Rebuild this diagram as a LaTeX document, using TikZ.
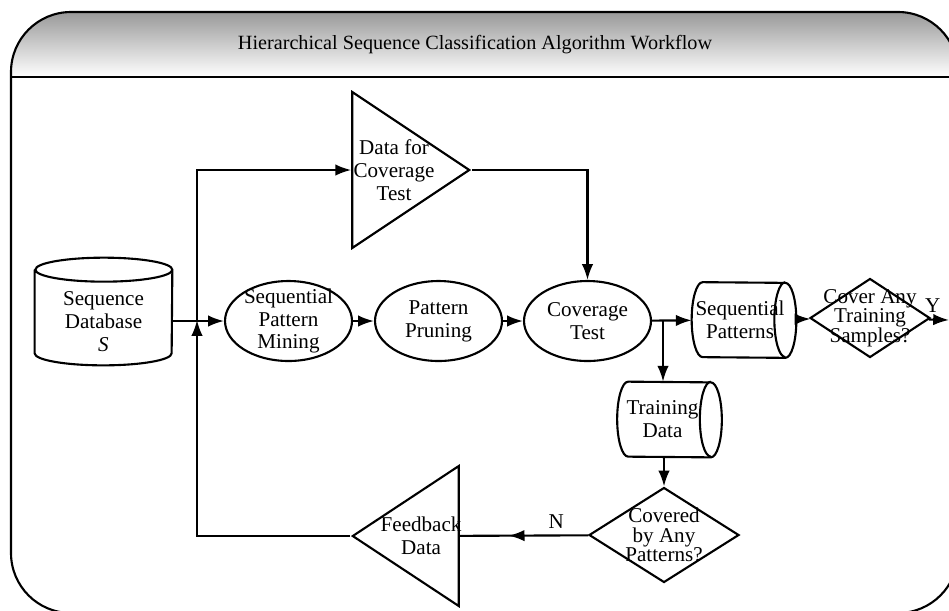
\documentclass[tikz,border=0pt]{standalone}
\usepackage{fontspec}
\setmainfont{Liberation Serif}
\usetikzlibrary{shapes.geometric, arrows.meta, decorations.markings}
\tikzset{
	flowtext/.style={font=\fontsize{12}{13}\selectfont, align=center}
}
\tikzset{
	asktext/.style={font=\fontsize{12}{11}\selectfont, align=center}
}
\tikzset{
	procnode/.style={draw, very thick, ellipse, minimum width=2.54cm, minimum height=1.6cm, inner sep=0pt}
}
\tikzset{
	drumnode/.style={rectangle, minimum width=2.08cm, minimum height=1.5cm, inner sep=0pt}
}
\tikzset{
	asknode/.style={draw, very thick, diamond, inner sep=0pt}
}
\tikzset{
	trinode/.style={draw, very thick, isosceles triangle, isosceles triangle stretches, inner sep=0pt}
}
\tikzset{
	flowarrow/.style={very thick, -{Latex[length=9pt,width=6.5pt]}}
}
\tikzset{
	midarrow/.style={very thick, postaction={decorate, decoration={markings,
	  mark=at position 0.62 with {\arrow{Latex[length=9pt,width=6.5pt]}}}}}
}
% lying drum round a node: rounded left end, open ellipse at the right end
\newcommand{\hdrum}[1]{
  \draw[very thick] ([xshift=0.22cm]#1.north west)
    arc[start angle=90, end angle=270, x radius=0.22cm, y radius=0.75cm]
    -- ([xshift=-0.22cm]#1.south east)
    arc[start angle=-90, end angle=90, x radius=0.22cm, y radius=0.75cm] -- cycle;
  \draw[very thick] ([xshift=-0.22cm]#1.north east)
    arc[start angle=90, end angle=270, x radius=0.22cm, y radius=0.75cm];
}

\begin{document}
\begin{tikzpicture}[x=0.02cm, y=-0.02cm]
  \useasboundingbox (0,0) rectangle (949,610);
  \clip (0,0) rectangle (949,610);
  \begin{scope}
    \clip[rounded corners=1.2cm] (11,12) rectangle (958,613);
    \shade[top color=gray!80, bottom color=white] (11,12) rectangle (958,77);
  \end{scope}
  \draw[very thick, rounded corners=1.2cm] (11,12) rectangle (958,613);
  \draw[very thick] (11,77) -- (958,77);
  \node[flowtext, font=\fontsize{11.5}{13}\selectfont] (title) at (475,45)
    {Hierarchical Sequence Classification Algorithm Workflow};

  \node[drumnode, minimum width=2.74cm, minimum height=2.14cm,
    label={[flowtext, yshift=-0.2cm]center:Sequence\\Database\\\textit{S}}] (db) at (103.5,311.5) {};
  \draw[very thick] ([yshift=-0.24cm]db.north west) -- ([yshift=0.24cm]db.south west)
    arc[start angle=180, end angle=360, x radius=1.37cm, y radius=0.24cm]
    -- ([yshift=-0.24cm]db.north east)
    arc[start angle=0, end angle=180, x radius=1.37cm, y radius=0.24cm]
    arc[start angle=180, end angle=360, x radius=1.37cm, y radius=0.24cm];
  \foreach \n/\x/\t in {spm/288.5/{Sequential\\Pattern\\Mining}, pp/438.5/{Pattern\\Pruning}, ct/587.5/{Coverage\\Test}}
    \node[procnode, label={[flowtext]center:\t}] (\n) at (\x,321) {};
  \node[drumnode, label={[flowtext, xshift=-0.08cm]center:Sequential\\Patterns}] (sp) at (744,320) {};
  \node[drumnode, label={[flowtext, xshift=-0.14cm]center:Training\\Data}] (td) at (669.5,419.5) {};
  \hdrum{sp}
  \hdrum{td}
  \node[asknode, minimum width=2.4cm, minimum height=1.58cm,
    label={[asktext]center:Cover Any\\Training\\Samples?}] (cat) at (870,318) {};
  \node[asknode, minimum width=3cm, minimum height=1.9cm,
    label={[asktext]center:Covered\\by Any\\Patterns?}] (cov) at (664,535) {};
  \node[trinode, minimum width=3.12cm, minimum height=2.34cm, anchor=apex,
    label={[flowtext]center:Data for\\Coverage\\Test}] (dfc) at (472,170) {};
  \node[trinode, shape border rotate=180, minimum width=2.8cm, minimum height=2.12cm, anchor=apex,
    label={[flowtext]center:Feedback\\Data}] (fb) at (350,536) {};

  \coordinate (jn) at (197,320);
  \coordinate (br) at (663,320);
  \coordinate (out) at (949,320);

  \draw[flowarrow] (db.east |- spm) -- (spm);
  \draw[flowarrow] (spm) -- (pp);
  \draw[flowarrow] (pp) -- (ct);
  \draw[flowarrow] (ct) -- (sp);
  \draw[flowarrow] (br) -- (br |- td.north);
  \draw[flowarrow] (sp) -- (cat);
  \draw[flowarrow] (cat) -- node[flowtext, pos=0.2, above] {Y} (out);
  \draw[flowarrow] (td.south -| cov) -- (cov);
  \draw[midarrow] (cov) -- node[flowtext, pos=0.25, above] {N} (fb);
  \draw[flowarrow] (fb) -| (jn);
  \draw[flowarrow] (jn) |- (dfc);
  \draw[flowarrow] (dfc) -| (ct);
\end{tikzpicture}
\end{document}
